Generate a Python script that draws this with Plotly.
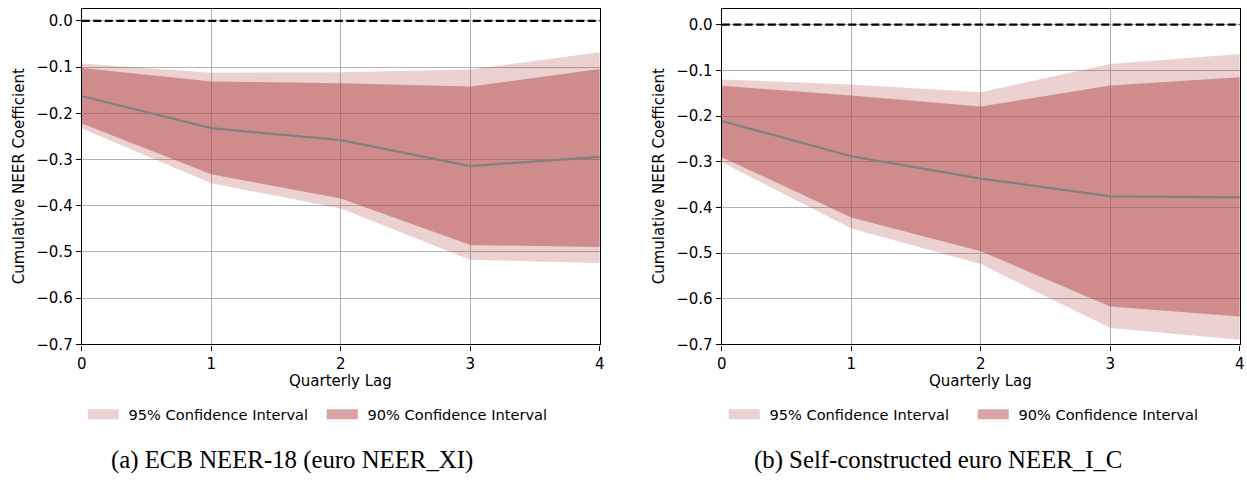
import plotly.graph_objects as go

# Quarterly lags on the x axis
lags = [0, 1, 2, 3, 4]

# (a) ECB NEER-18 (euro NEER_XI)
a_coef = [-0.163, -0.232, -0.258, -0.314, -0.294]
a_lo95 = [-0.233, -0.351, -0.406, -0.517, -0.524]
a_hi95 = [-0.092, -0.112, -0.111, -0.105, -0.068]
a_lo90 = [-0.222, -0.332, -0.384, -0.485, -0.489]
a_hi90 = [-0.102, -0.131, -0.135, -0.142, -0.104]

# (b) Self-constructed euro NEER_I_C
b_coef = [-0.211, -0.288, -0.337, -0.376, -0.378]
b_lo95 = [-0.301, -0.446, -0.524, -0.664, -0.690]
b_hi95 = [-0.120, -0.131, -0.148, -0.086, -0.064]
b_lo90 = [-0.290, -0.422, -0.496, -0.617, -0.639]
b_hi90 = [-0.134, -0.155, -0.179, -0.133, -0.115]

y_ticks = [0.0, -0.1, -0.2, -0.3, -0.4, -0.5, -0.6, -0.7]

W, H = 1247, 483
FONT = "DejaVu Sans"
FS = 15
BAND = (179, 71, 71)
C95 = "rgba(%d,%d,%d,0.25)" % BAND
C90 = "rgba(%d,%d,%d,0.5)" % BAND


def px_x(v):
    """Paper x fraction for a pixel column on the page."""
    return ((v - 4.2) / 0.992) / W


def px_y(v):
    """Paper y fraction for a pixel row measured from the top."""
    return 1 - ((v + 0.7) / 0.985) / H


panels = [
    dict(coef=a_coef, lo95=a_lo95, hi95=a_hi95, lo90=a_lo90, hi90=a_hi90,
         left=81, right=599, ytop=0.0265, ax="", legend="legend",
         legx=82, entry=193, capx=291, caption="(a) ECB NEER-18 (euro NEER_XI)"),
    dict(coef=b_coef, lo95=b_lo95, hi95=b_hi95, lo90=b_lo90, hi90=b_hi90,
         left=721, right=1239, ytop=0.035, ax="2", legend="legend2",
         legx=723, entry=203, capx=937, caption="(b) Self-constructed euro NEER_I_C"),
]

fig = go.Figure()
ydom = (px_y(345), px_y(8))

for p in panels:
    xa, ya = "x" + p["ax"], "y" + p["ax"]
    band_x = lags + lags[::-1]
    fig.add_trace(go.Scatter(
        x=band_x, y=p["hi95"] + p["lo95"][::-1], fill="toself", fillcolor=C95,
        line=dict(width=0), mode="lines", showlegend=False,
        xaxis=xa, yaxis=ya, hoverinfo="skip"))
    fig.add_trace(go.Scatter(
        x=band_x, y=p["hi90"] + p["lo90"][::-1], fill="toself", fillcolor=C90,
        line=dict(width=0), mode="lines", showlegend=False,
        xaxis=xa, yaxis=ya, hoverinfo="skip"))
    fig.add_trace(go.Scatter(
        x=lags, y=p["coef"], mode="lines", line=dict(color="#808080", width=2.2),
        showlegend=False, xaxis=xa, yaxis=ya))
    fig.add_trace(go.Scatter(
        x=[lags[0], lags[-1]], y=[0, 0], mode="lines",
        line=dict(color="black", width=2.2, dash="8px,3.5px"),
        showlegend=False, xaxis=xa, yaxis=ya))
    # legend keys: thick strokes in the band colours
    for name, col in (("95% Confidence Interval", C95), ("90% Confidence Interval", C90)):
        fig.add_trace(go.Scatter(
            x=[None], y=[None], mode="lines", line=dict(color=col, width=11),
            name="\u00a0" + name, xaxis=xa, yaxis=ya, legend=p["legend"]))

    axis_common = dict(
        showline=True, linecolor="black", linewidth=1.2, mirror=True,
        ticks="outside", ticklen=5, tickwidth=1.2, tickcolor="black",
        showgrid=True, gridcolor="#b0b0b0", gridwidth=1, zeroline=False,
        tickfont=dict(family=FONT, size=FS, color="black"),
    )
    xd = (px_x(p["left"]), px_x(p["right"]))
    fig.update_layout({
        "xaxis" + p["ax"]: dict(domain=xd, range=[0, 4], tickvals=lags,
                                anchor=ya, **axis_common),
        "yaxis" + p["ax"]: dict(domain=ydom, range=[-0.7, p["ytop"]], tickvals=y_ticks,
                                tickformat=".1f", anchor=xa, **axis_common),
    })

    xc = (xd[0] + xd[1]) / 2
    fig.add_annotation(text="Quarterly Lag", x=xc, y=px_y(382), xref="paper", yref="paper",
                       xanchor="center", yanchor="middle", showarrow=False,
                       font=dict(family=FONT, size=FS, color="black"))
    fig.add_annotation(text="Cumulative NEER Coefficient", x=px_x(p["left"] - 63),
                       y=(ydom[0] + ydom[1]) / 2, xref="paper", yref="paper", textangle=-90,
                       xanchor="center", yanchor="middle", showarrow=False,
                       font=dict(family=FONT, size=FS, color="black"))
    fig.add_annotation(text=p["caption"], x=px_x(p["capx"]), y=px_y(461), xref="paper",
                       yref="paper", xanchor="center", yanchor="middle", showarrow=False,
                       font=dict(family="Liberation Serif", size=24.8, color="black"))

    fig.update_layout({p["legend"]: dict(
        orientation="h", yanchor="middle", xanchor="left", x=px_x(p["legx"]), y=px_y(415),
        font=dict(family=FONT, size=14.6, color="black"), bgcolor="rgba(0,0,0,0)",
        entrywidth=p["entry"], entrywidthmode="pixels", itemwidth=31, traceorder="normal")})

fig.update_layout(
    width=W, height=H, margin=dict(l=0, r=0, t=0, b=0),
    paper_bgcolor="white", plot_bgcolor="white",
)

fig.write_html("out.html")
